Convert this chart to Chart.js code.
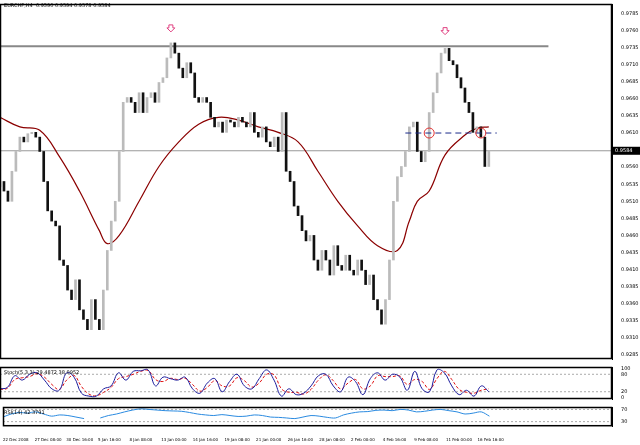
<!DOCTYPE html>
<html><head><meta charset="utf-8">
<script src="https://cdn.jsdelivr.net/npm/chart.js@4"></script>
<style>
html,body{margin:0;padding:0;background:#fff;width:640px;height:445px;overflow:hidden;font-family:"DejaVu Sans",sans-serif}
.p{position:absolute;left:0;width:640px}
</style></head><body>
<div class="p" style="top:0;height:363px"><canvas id="main"></canvas></div>
<div class="p" style="top:363px;height:40px"><canvas id="sto"></canvas></div>
<div class="p" style="top:403px;height:42px"><canvas id="rsi"></canvas></div>
<script>
const title = "EURCHF,H4  0.9590 0.9594 0.9578 0.9584";
const closes = [0.9539,0.9525,0.9510,0.9554,0.9583,0.9604,0.9597,0.9609,0.9611,0.9604,0.9583,0.9539,0.9496,0.9481,0.9474,0.9424,0.9416,0.9380,0.9366,0.9395,0.9351,0.9337,0.9322,0.9366,0.9337,0.9322,0.9380,0.9438,0.9481,0.9510,0.9583,0.9655,0.9662,0.9655,0.9640,0.9669,0.9640,0.9662,0.9669,0.9655,0.9684,0.9691,0.9720,0.9742,0.9727,0.9705,0.9691,0.9713,0.9698,0.9662,0.9655,0.9662,0.9655,0.9633,0.9619,0.9626,0.9611,0.9629,0.9626,0.9619,0.9633,0.9626,0.9619,0.9640,0.9611,0.9604,0.9619,0.9597,0.9590,0.9604,0.9583,0.9640,0.9554,0.9539,0.9503,0.9489,0.9467,0.9452,0.9460,0.9424,0.9409,0.9438,0.9424,0.9402,0.9445,0.9416,0.9409,0.9431,0.9409,0.9402,0.9424,0.9409,0.9388,0.9402,0.9366,0.9351,0.9330,0.9366,0.9424,0.9510,0.9546,0.9561,0.9583,0.9619,0.9626,0.9583,0.9568,0.9583,0.9640,0.9669,0.9698,0.9727,0.9734,0.9716,0.9710,0.9691,0.9676,0.9655,0.9640,0.9611,0.9619,0.9604,0.9561,0.9584];
const maIdx = [0,5,10,15,20,25,27,30,35,40,45,50,55,60,65,70,75,80,85,90,95,100,103,105,108,112,117,120,123];
const maVal = [0.9633,0.9619,0.9614,0.9575,0.9525,0.9467,0.9448,0.9460,0.9510,0.9561,0.9597,0.9623,0.9633,0.9629,0.9619,0.9611,0.9597,0.9554,0.9510,0.9474,0.9445,0.9438,0.9481,0.9510,0.9525,0.9578,0.9607,0.9617,0.9619];
const resistance = 0.9737, current = 0.9584, neckline = 0.9610;
const stochMain = [30,35,75,60,80,85,60,30,25,85,70,15,5,5,30,40,85,60,90,92,95,40,70,65,60,70,30,15,50,65,20,55,80,40,30,65,95,60,5,30,10,15,40,75,80,40,20,70,55,10,65,85,60,80,70,25,90,30,20,95,85,40,10,25,5,40,20];
const stochSig = [28,32,62,68,72,82,70,45,28,60,76,38,12,6,18,35,65,72,80,90,93,62,55,66,62,66,45,22,35,58,40,40,68,58,36,50,80,78,30,18,18,12,28,60,78,58,30,50,62,30,40,75,72,72,74,45,62,55,28,65,90,62,28,18,15,25,30];
const rsiVal = [45,55,60,58,62,55,48,52,50,45,40,null,42,50,55,62,68,72,70,68,66,65,64,60,55,52,50,53,50,47,48,52,50,45,44,42,40,45,50,48,44,42,52,58,62,63,67,68,66,70,68,62,64,68,70,66,62,55,58,62,48];
const xLabels = ["22 Dec 2008","27 Dec 08:00","30 Dec 16:00","5 Jan 16:00","8 Jan 08:00","13 Jan 00:00","14 Jan 16:00","19 Jan 08:00","21 Jan 00:00","26 Jan 16:00","28 Jan 08:00","2 Feb 00:00","4 Feb 16:00","9 Feb 08:00","11 Feb 00:00","16 Feb 16:00"];
const priceTicks = [0.9785,0.9760,0.9735,0.9710,0.9685,0.9660,0.9635,0.9610,0.9585,0.9560,0.9535,0.9510,0.9485,0.9460,0.9435,0.9410,0.9385,0.9360,0.9335,0.9310,0.9285];

const XMAX = 154, AXW = 28, LSTEP = 8, F = {family:"DejaVu Sans",size:5}, FX = {family:"DejaVu Sans",size:4};
Chart.defaults.animation = false;
Chart.defaults.font = F;
function spread(arr, last){ return arr.map((v,i)=>({x:i*last/(arr.length-1), y:v})); }
const xs = (show)=>({type:'linear',min:0,max:XMAX,offset:false,display:show,grid:{display:false,offset:false},border:{display:false},
  ticks:{autoSkip:false,maxRotation:0,color:'#000',font:FX,padding:3,align:'start',callback:(v)=>{const k=v/LSTEP;return Number.isInteger(k)&&xLabels[k]?xLabels[k]:''}},
  afterBuildTicks:(a)=>{a.ticks=xLabels.map((_,k)=>({value:k*LSTEP}));}});
const ys = (min,max,ticks,fmt)=>({type:'linear',position:'right',min,max,grid:{display:false},border:{color:'#000'},
  afterFit:(a)=>{a.width=AXW;}, afterBuildTicks:(a)=>{a.ticks=ticks.map(v=>({value:v}));},
  ticks:{color:'#000',font:F,padding:1,callback:fmt}});
const frame = {id:'frame',afterDraw(c){const a=c.chartArea,x=c.ctx;x.save();x.strokeStyle='#000';x.lineWidth=1.5;x.strokeRect(a.left+0.5,a.top+0.5,a.width-1,a.height-1);x.restore();}};

const bodies = closes.map((c,i)=>({x:i, y:[i?closes[i-1]:c-0.0008, c]}));
const annot = {id:'annot',beforeDatasetsDraw(c){
  const x=c.ctx,X=c.scales.x,Y=c.scales.y,a=c.chartArea;x.save();
  x.strokeStyle='#999';x.lineWidth=1;
  x.beginPath();x.moveTo(a.left,Y.getPixelForValue(current));x.lineTo(a.right,Y.getPixelForValue(current));x.stroke();
  x.strokeStyle='#888';x.lineWidth=2;
  x.beginPath();x.moveTo(a.left,Y.getPixelForValue(resistance));x.lineTo(X.getPixelForValue(138),Y.getPixelForValue(resistance));x.stroke();
  x.restore();},
 afterDraw(c){
  const x=c.ctx,X=c.scales.x,Y=c.scales.y,a=c.chartArea;x.save();
  x.strokeStyle='#1a2a8a';x.setLineDash([6,4]);x.lineWidth=1;const ny=Y.getPixelForValue(neckline);
  x.beginPath();x.moveTo(X.getPixelForValue(102),ny);x.lineTo(X.getPixelForValue(125),ny);x.stroke();x.setLineDash([]);
  x.strokeStyle='#e03030';[108,121].forEach(i=>{x.beginPath();x.arc(X.getPixelForValue(i),ny,5,0,Math.PI*2);x.stroke();});
  x.strokeStyle='#e04080';[[43,0.9764],[112,0.9760]].forEach(([i,p])=>{const px=X.getPixelForValue(i),py=Y.getPixelForValue(p);
    x.beginPath();x.moveTo(px-2,py-3);x.lineTo(px+2,py-3);x.lineTo(px+2,py);x.lineTo(px+4,py);x.lineTo(px,py+4);x.lineTo(px-4,py);x.lineTo(px-2,py);x.closePath();x.stroke();});
  const cy=Y.getPixelForValue(current);x.fillStyle='#000';x.fillRect(a.right+1,cy-4,27,8);
  x.fillStyle='#fff';x.font='5px DejaVu Sans';x.textBaseline='middle';x.fillText(current.toFixed(4),a.right+3,cy);
  x.fillStyle='#000';x.fillText(title,4,6);
  x.restore();}};

new Chart(document.getElementById('main'),{type:'bar',
 data:{datasets:[
  {type:'bar',data:bodies,barThickness:2,backgroundColor:bodies.map(b=>b.y[1]>=b.y[0]?'#bbb':'#111'),borderWidth:0,grouped:false},
  {type:'line',data:maIdx.map((v,k)=>({x:v,y:maVal[k]})),borderColor:'#8b0000',borderWidth:1.2,pointRadius:0,tension:0.4}
 ]},
 options:{responsive:true,maintainAspectRatio:false,layout:{padding:0},
  plugins:{legend:{display:false},tooltip:{enabled:false}},
  scales:{x:xs(false),y:ys(0.9279,0.9799,priceTicks,v=>v.toFixed(4))}},
 plugins:[annot,frame]});

const lvl=(levels,txt)=>({id:'lvl',beforeDatasetsDraw(c){const x=c.ctx,Y=c.scales.y,a=c.chartArea;x.save();x.strokeStyle='#aaa';x.setLineDash([2,2]);
  levels.forEach(l=>{const y=Y.getPixelForValue(l);x.beginPath();x.moveTo(a.left,y);x.lineTo(a.right,y);x.stroke();});x.restore();},
 afterDraw(c){const x=c.ctx;x.save();x.fillStyle='#000';x.font='5px DejaVu Sans';x.textBaseline='top';x.fillText(txt,4,c.chartArea.top+3);x.restore();}});

new Chart(document.getElementById('sto'),{type:'line',
 data:{datasets:[
  {data:spread(stochMain,123),borderColor:'#1c1c9c',borderWidth:1,pointRadius:0,tension:0.4},
  {data:spread(stochSig,123),borderColor:'#e01010',borderWidth:1,borderDash:[3,2],pointRadius:0,tension:0.4}]},
 options:{responsive:true,maintainAspectRatio:false,plugins:{legend:{display:false},tooltip:{enabled:false}},
  scales:{x:xs(false),y:ys(-5,105,[100,80,20,0],v=>String(v))}},
 plugins:[lvl([80,20],'Stoch(5,3,3) 29.4872 38.0952'),frame]});

new Chart(document.getElementById('rsi'),{type:'line',
 data:{datasets:[{data:spread(rsiVal,123),borderColor:'#2a8ae0',borderWidth:1,pointRadius:0,tension:0.3,spanGaps:false}]},
 options:{responsive:true,maintainAspectRatio:false,plugins:{legend:{display:false},tooltip:{enabled:false}},
  scales:{x:xs(true),y:ys(15,78,[70,30],v=>String(v))}},
 plugins:[lvl([70,30],'RSI(14) 42.3791'),frame]});
</script></body></html>
